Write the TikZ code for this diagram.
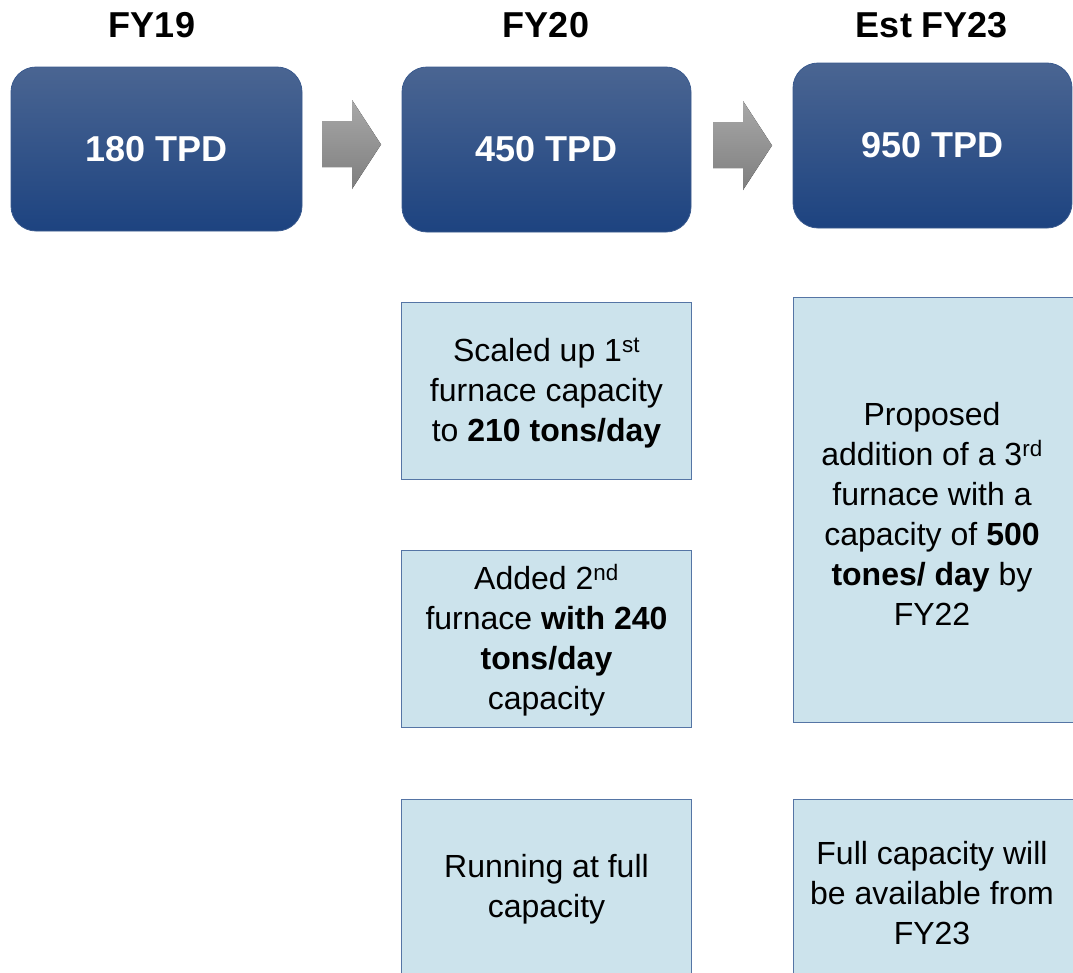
\documentclass[tikz,border=0pt]{standalone}
\usepackage{fontspec}
\setmainfont{Liberation Sans}
\definecolor{navytop}{HTML}{4A6592}
\definecolor{navybot}{HTML}{1D4380}
\definecolor{navyedge}{HTML}{3A5A8E}
\definecolor{paleblue}{HTML}{CCE3EC}
\definecolor{paleedge}{HTML}{5575A5}
\definecolor{greytop}{HTML}{A8A8A8}
\definecolor{greybot}{HTML}{7E7E7E}
\begin{document}
\begin{tikzpicture}[x=1pt,y=-1pt,
  heading/.style={font=\fontsize{36}{40}\selectfont\bfseries, text=black},
  tpdbox/.style={rounded corners=25pt, top color=navytop, bottom color=navybot, draw=navyedge, line width=0.8pt,
     text=white, font=\fontsize{36}{40}\selectfont\bfseries, inner sep=0pt},
  infobox/.style={fill=paleblue, draw=paleedge, line width=1pt, inner sep=0pt},
  infotext/.style={align=center, font=\fontsize{32}{40}\selectfont, text=black},
  flowarrow/.style={top color=greytop, bottom color=greybot, draw=none}
]
\useasboundingbox (0,0) rectangle (1073,972);
\clip (0,0) rectangle (1073,972);
\fill[white] (0,0) rectangle (1073,972);

% headings
\node[heading] (h1) at (152,25) {FY19};
\node[heading] (h2) at (546,25) {FY20};
\node[heading] (h3) at (932,25) {Est FY23};

% dark boxes
\node[tpdbox, minimum width=291pt, minimum height=164pt] (b1) at (156.5,149) {180 TPD};
\node[tpdbox, minimum width=289pt, minimum height=165pt] (b2) at (546.5,149.5) {450 TPD};
\node[tpdbox, minimum width=279pt, minimum height=165pt] (b3) at (932.5,145.5) {950 TPD};

% grey arrows
\fill[flowarrow] (322,121) -- (352,121) -- (352,100) -- (381,144.5) -- (352,189) -- (352,167) -- (322,167) -- cycle;
\fill[flowarrow] (713,122) -- (743,122) -- (743,101) -- (772,145.5) -- (743,190) -- (743,168) -- (713,168) -- cycle;

% FY20 column
\node[infobox, minimum width=290pt, minimum height=177pt] (fa) at (546.5,390.5) {};
\node[infotext] (ta) at (546.5,393) {Scaled up 1\textsuperscript{st}\\furnace capacity\\to \textbf{210 tons/day}};

\node[infobox, minimum width=290pt, minimum height=177pt] (fb) at (546.5,638.5) {};
\node[infotext] (tb) at (546.5,640) {Added 2\textsuperscript{nd}\\furnace \textbf{with 240}\\\textbf{tons/day}\\capacity};

\node[infobox, minimum width=290pt, minimum height=178pt] (fc) at (546.5,888) {};
\node[infotext] (tc) at (546.5,889) {Running at full\\capacity};

% Est FY23 column
\node[infobox, minimum width=284pt, minimum height=425pt] (fd) at (935,509.5) {};
\node[infotext] (td) at (932,514) {Proposed\\addition of a 3\textsuperscript{rd}\\furnace with a\\capacity of \textbf{500}\\\textbf{tones/ day} by\\FY22};

\node[infobox, minimum width=284pt, minimum height=190pt] (fe) at (935,894) {};
\node[infotext] (te) at (932,893) {Full capacity will\\be available from\\FY23};
\end{tikzpicture}
\end{document}
